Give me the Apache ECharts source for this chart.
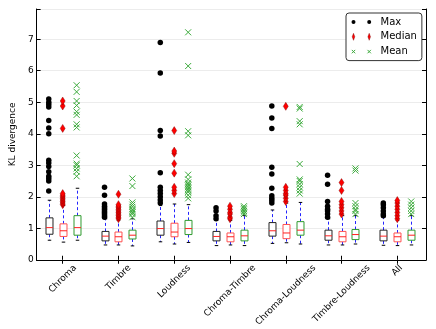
<!DOCTYPE html>
<html><head><meta charset="utf-8">
<script src="https://cdn.jsdelivr.net/npm/echarts@6/dist/echarts.min.js"></script>
<style>html,body{margin:0;padding:0;background:#fff}#c{width:436px;height:329px}</style>
</head><body><div id="c"></div>
<script>
const categories = ['Chroma','Timbre','Loudness','Chroma-Timbre','Chroma-Loudness','Timbre-Loudness','All'];
const seriesNames = ['Max','Median','Mean'];
const yTicks = [0,1,2,3,4,5,6,7];

// box stats: [lower whisker, q1, median, q3, upper whisker]
const maxBox = [[0.62,0.81,1.02,1.33,1.89],[0.47,0.60,0.75,0.90,1.30],[0.57,0.78,0.99,1.23,1.72],[0.45,0.60,0.74,0.90,1.25],[0.52,0.75,0.92,1.18,1.58],[0.47,0.62,0.76,0.94,1.30],[0.46,0.60,0.75,0.94,1.35]];
const medianBox = [[0.56,0.74,0.92,1.14,1.72],[0.47,0.57,0.73,0.88,1.25],[0.50,0.73,0.88,1.16,1.77],[0.47,0.57,0.73,0.85,1.25],[0.54,0.67,0.85,1.12,1.80],[0.47,0.57,0.73,0.90,1.40],[0.45,0.57,0.73,0.85,1.25]];
const meanBox = [[0.62,0.78,1.02,1.40,2.27],[0.44,0.66,0.78,0.94,1.30],[0.55,0.80,0.99,1.25,1.75],[0.45,0.60,0.76,0.94,1.40],[0.50,0.78,0.94,1.21,1.82],[0.50,0.64,0.80,0.96,1.40],[0.47,0.62,0.78,0.94,1.40]];

const maxOutliers = [
  [2.18,2.50,2.58,2.65,2.79,2.96,3.07,3.16,4.00,4.18,4.42,4.85,4.93,5.00,5.10],
  [1.35,1.40,1.45,1.50,1.55,1.60,1.65,1.70,1.77,2.05,2.30],
  [1.80,1.90,2.00,2.10,2.20,2.30,2.76,3.93,4.10,5.93,6.90],
  [1.30,1.40,1.55,1.65],
  [1.80,1.88,1.95,2.03,2.27,2.72,2.94,4.17,4.50,4.88],
  [1.35,1.45,1.55,1.60,1.70,1.85,2.40,2.68],
  [1.40,1.45,1.55,1.65,1.75,1.80]
];
const medianOutliers = [
  [1.75,1.80,1.85,1.90,1.95,2.00,2.05,2.10,4.17,4.88,5.04],
  [1.30,1.35,1.40,1.45,1.50,1.55,1.60,1.65,1.70,1.75,2.08],
  [2.10,2.20,2.30,2.75,3.05,3.38,3.45,4.10],
  [1.30,1.35,1.45,1.50,1.60,1.70],
  [1.85,1.95,2.05,2.10,2.20,2.30,4.87],
  [1.45,1.55,1.65,1.75,1.85,2.20,2.45],
  [1.30,1.40,1.50,1.60,1.70,1.80,1.88]
];
const meanOutliers = [
  [2.65,2.80,2.90,3.00,3.05,3.31,4.20,4.30,4.60,4.70,4.90,5.04,5.33,5.54],
  [1.35,1.45,1.50,1.55,1.60,1.68,1.75,1.82,2.34,2.58],
  [1.95,2.05,2.15,2.20,2.25,2.30,2.35,2.40,2.45,2.55,2.70,3.95,4.08,6.15,7.22],
  [1.45,1.50,1.55,1.60,1.65,1.70],
  [2.10,2.20,2.30,2.40,2.50,2.55,3.04,4.30,4.40,4.80,4.85],
  [1.45,1.55,1.60,1.70,1.80,2.83,2.90],
  [1.45,1.55,1.65,1.75,1.85]
];

const FONT = 'DejaVu Sans';
const groupPos = categories.map((c, i) => 4 * i + 2);
const offsets = [-1, 0, 1];
const boxEdge = ['#222222', '#ff5050', '#2e9a2e'];
const XMIN = 0.13, XMAX = 28.06;

function boxData(box, off) { return box.map((b, i) => [groupPos[i] + off].concat(b)); }
function outData(outs, off) {
  const r = [];
  outs.forEach((vals, i) => vals.forEach(v => r.push([groupPos[i] + off, v])));
  return r;
}

function renderBox(edge) {
  return function (params, api) {
    const x = api.value(0);
    const c0 = api.coord([x, api.value(1)]);
    const cx = Math.round(c0[0]) + 0.5;
    const yLo = api.coord([x, api.value(1)])[1];
    const yQ1 = api.coord([x, api.value(2)])[1];
    const yMed = api.coord([x, api.value(3)])[1];
    const yQ3 = api.coord([x, api.value(4)])[1];
    const yHi = api.coord([x, api.value(5)])[1];
    const half = api.size([0.5, 0])[0] / 2;
    const capHalf = half / 2;
    const wStyle = { stroke: '#2424ff', lineWidth: 1, lineDash: [3, 2.5] };
    return {
      type: 'group',
      children: [
        { type: 'line', shape: { x1: cx, y1: yQ1, x2: cx, y2: yLo }, style: wStyle },
        { type: 'line', shape: { x1: cx, y1: yQ3, x2: cx, y2: yHi }, style: wStyle },
        { type: 'line', shape: { x1: cx - capHalf, y1: yLo, x2: cx + capHalf, y2: yLo }, style: { stroke: '#000', lineWidth: 1 } },
        { type: 'line', shape: { x1: cx - capHalf, y1: yHi, x2: cx + capHalf, y2: yHi }, style: { stroke: '#000', lineWidth: 1 } },
        { type: 'rect', shape: { x: cx - half, y: yQ3, width: 2 * half, height: yQ1 - yQ3 }, style: { fill: '#fff', stroke: edge, lineWidth: 1 } },
        { type: 'line', shape: { x1: cx - half, y1: yMed, x2: cx + half, y2: yMed }, style: { stroke: '#ff2020', lineWidth: 1 } }
      ]
    };
  };
}

// x label geometry (matplotlib-style: rotated 45, centred on tick, top aligned)
const mctx = document.createElement('canvas').getContext('2d');
mctx.font = '9px "' + FONT + '"';
const LH = 10.5;
const rich = {};
categories.forEach((c, i) => {
  const w = mctx.measureText(c).width;
  const p = (w + LH) / 2;
  rich['l' + i] = { fontSize: 9, fontFamily: FONT, color: '#000', padding: [p, p, 0, 0] };
});

const ICON_W = 24;
const iconMax = 'path://M0,0L0,0M24,8L24,8M0,4a2,2 0 1,0 4,0a2,2 0 1,0 -4,0zM15.7,4a2,2 0 1,0 4,0a2,2 0 1,0 -4,0z';
const iconMed = 'path://M0,0L0,0M24,8L24,8M2,0.5L3.3,4L2,7.5L0.7,4zM17.7,0.5L19,4L17.7,7.5L16.4,4z';
const iconMean = 'path://M0,0L0,0M24,8L24,8M0.3,2.3L3.7,5.7M3.7,2.3L0.3,5.7M16,2.3L19.4,5.7M19.4,2.3L16,5.7';

const chart = echarts.init(document.getElementById('c'), null, { renderer: 'canvas' });
const option = {
  animation: false,
  textStyle: { fontFamily: FONT },
  grid: { left: 33, right: 10, top: 9, bottom: 66 },
  xAxis: [
    {
      type: 'value', min: XMIN, max: XMAX, position: 'bottom',
      axisLine: { show: true, lineStyle: { color: '#000', width: 1 } },
      axisTick: { show: true, inside: true, length: 4, customValues: groupPos, lineStyle: { color: '#000' } },
      axisLabel: {
        show: true, customValues: groupPos, rotate: 45, align: 'center', verticalAlign: 'middle', margin: 3,
        formatter: function (v) { const i = Math.round((v - 2) / 4); return '{l' + i + '|' + categories[i] + '}'; },
        rich: rich
      },
      splitLine: { show: false }
    },
    {
      type: 'value', min: XMIN, max: XMAX, position: 'top',
      axisLine: { show: true, lineStyle: { color: '#000', width: 1 } },
      axisTick: { show: true, inside: true, length: 4, customValues: groupPos, lineStyle: { color: '#000' } },
      axisLabel: { show: false, customValues: groupPos },
      splitLine: { show: false }
    }
  ],
  yAxis: [
    {
      type: 'value', min: 0, max: 7.96, interval: 1, position: 'left',
      name: 'KL divergence', nameLocation: 'middle', nameGap: 17,
      nameTextStyle: { fontSize: 9, color: '#000', fontFamily: FONT },
      axisLine: { show: true, lineStyle: { color: '#000', width: 1 } },
      axisTick: { show: true, inside: true, length: 4, lineStyle: { color: '#000' } },
      axisLabel: { fontSize: 9, color: '#000', margin: 3, formatter: v => (yTicks.indexOf(v) >= 0 ? String(v) : '') },
      splitLine: { show: true, lineStyle: { color: '#ececec', width: 1 } }
    },
    {
      type: 'value', min: 0, max: 7.96, interval: 1, position: 'right',
      axisLine: { show: true, lineStyle: { color: '#000', width: 1 } },
      axisTick: { show: true, inside: true, length: 4, lineStyle: { color: '#000' } },
      axisLabel: { show: false },
      splitLine: { show: false }
    }
  ],
  legend: {
    orient: 'vertical', left: 346, top: 13, padding: [4, 5, 4, 5], itemGap: 4.8,
    itemWidth: ICON_W, itemHeight: 8,
    borderColor: '#333', borderWidth: 1, borderRadius: 3, backgroundColor: '#fff',
    textStyle: { fontSize: 10, fontFamily: FONT, color: '#000' },
    data: [
      { name: 'Max', icon: iconMax, itemStyle: { color: '#000', borderWidth: 0 } },
      { name: 'Median', icon: iconMed, itemStyle: { color: '#ff0000', borderColor: '#700', borderWidth: 0.4 } },
      { name: 'Mean', icon: iconMean, itemStyle: { color: 'transparent', borderColor: '#3caa3c', borderWidth: 1 } }
    ]
  },
  series: [
    { type: 'custom', name: 'MaxBox', renderItem: renderBox(boxEdge[0]), data: boxData(maxBox, offsets[0]), encode: { x: 0, y: [1, 2, 3, 4, 5] }, z: 2 },
    { type: 'custom', name: 'MedianBox', renderItem: renderBox(boxEdge[1]), data: boxData(medianBox, offsets[1]), encode: { x: 0, y: [1, 2, 3, 4, 5] }, z: 2 },
    { type: 'custom', name: 'MeanBox', renderItem: renderBox(boxEdge[2]), data: boxData(meanBox, offsets[2]), encode: { x: 0, y: [1, 2, 3, 4, 5] }, z: 2 },
    { type: 'scatter', name: 'Max', symbol: 'circle', symbolSize: 5.5, data: outData(maxOutliers, offsets[0]), itemStyle: { color: '#000', opacity: 1 }, z: 3 },
    { type: 'scatter', name: 'Median', symbol: 'diamond', symbolSize: [5, 8], data: outData(medianOutliers, offsets[1]), itemStyle: { color: '#ff0000', borderColor: '#700', borderWidth: 0.4, opacity: 1 }, z: 3 },
    { type: 'scatter', name: 'Mean', symbol: 'path://M0,0L8,8M8,0L0,8', symbolSize: 6, data: outData(meanOutliers, offsets[2]), itemStyle: { color: 'transparent', borderColor: '#3caa3c', borderWidth: 1, opacity: 1 }, z: 3 }
  ]
};
chart.setOption(option);
</script>
</body></html>
